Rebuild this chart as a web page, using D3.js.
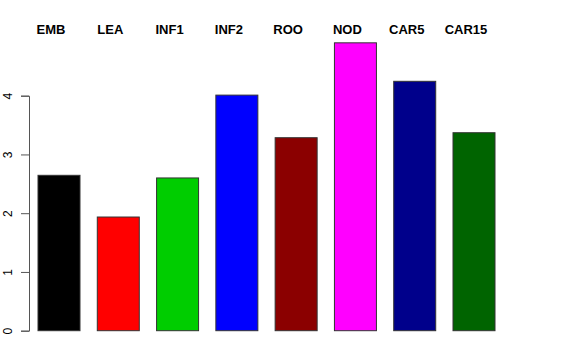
<!DOCTYPE html>
<html>
<head>
<meta charset="utf-8">
<script src="https://cdn.jsdelivr.net/npm/d3@7"></script>
<style>
  body { margin: 0; background: #fff; }
  text { font-family: "Liberation Sans", Arial, sans-serif; }
</style>
</head>
<body>
<script>
const width = 576;
const height = 360;

// data
const categories = ["EMB", "LEA", "INF1", "INF2", "ROO", "NOD", "CAR5", "CAR15"];
const values = [2.645, 1.935, 2.60, 4.01, 3.285, 4.90, 4.245, 3.37];
const barColors = ["#000000", "#FF0000", "#00CD00", "#0000FF", "#8B0000", "#FF00FF", "#00008B", "#006400"];
const yTicks = [0, 1, 2, 3, 4];

const svg = d3.select('body').append('svg')
    .attr('width', width)
    .attr('height', height);

const x = d3.scaleBand()
    .domain(categories)
    .range([38, 495])
    .paddingInner(0.2916)
    .paddingOuter(0);

const y = d3.scaleLinear()
    .domain([0, 4])
    .range([330.7, 95.7]);

// bars
svg.append('g')
    .selectAll('rect')
    .data(categories)
    .enter().append('rect')
    .attr('x', d => x(d))
    .attr('y', (d, i) => y(values[i]))
    .attr('width', x.bandwidth())
    .attr('height', (d, i) => y(0) - y(values[i]))
    .attr('fill', (d, i) => barColors[i])
    .attr('stroke', '#333')
    .attr('stroke-width', 1);

// y axis, R style with rotated labels
const yAxis = svg.append('g')
    .attr('transform', 'translate(29,0)')
    .call(d3.axisLeft(y).tickValues(yTicks).tickSize(8).tickFormat(d3.format('d')));
yAxis.select('.domain').attr('stroke', '#555');
yAxis.selectAll('.tick line').attr('stroke', '#555');
yAxis.selectAll('.tick text')
    .attr('x', null).attr('dy', null)
    .attr('font-size', 12)
    .attr('font-family', '"Liberation Sans", Arial, sans-serif')
    .attr('fill', '#000')
    .attr('text-anchor', 'middle')
    .attr('transform', 'translate(-17,0) rotate(-90)');

// category labels along the top
svg.append('g')
    .selectAll('text')
    .data(categories)
    .enter().append('text')
    .attr('x', d => x(d) + x.bandwidth() / 2 - 8)
    .attr('y', 34.3)
    .attr('text-anchor', 'middle')
    .attr('font-weight', 'bold')
    .attr('font-size', 13)
    .text(d => d);
</script>
</body>
</html>
